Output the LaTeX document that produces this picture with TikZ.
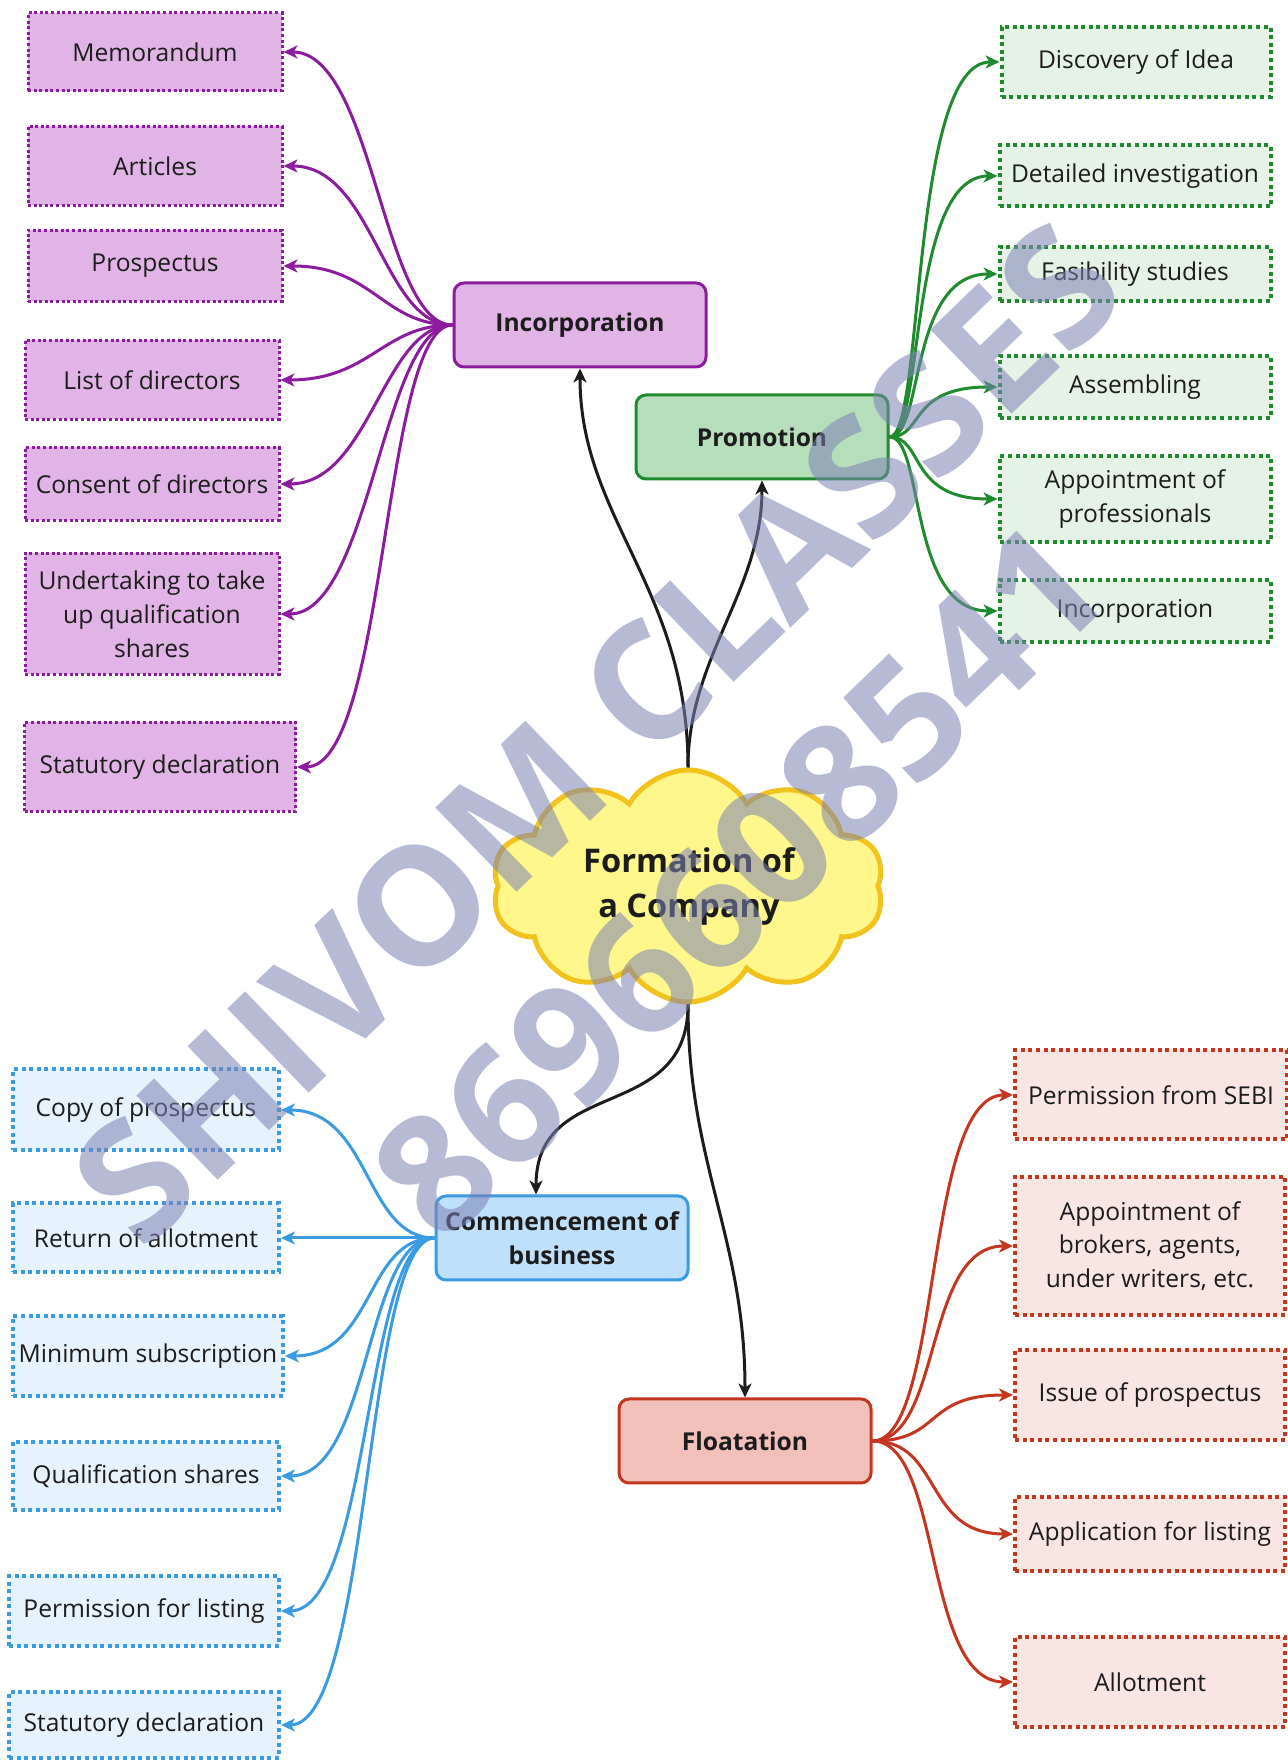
\documentclass[tikz,border=0pt]{standalone}
\usepackage{fontspec}
\setmainfont{Open Sans}
\usetikzlibrary{arrows.meta,shapes.symbols}
\definecolor{purpF}{HTML}{E0B5E5}
\definecolor{purpD}{HTML}{8B1C9E}
\definecolor{grnMainF}{HTML}{B6DEBB}
\definecolor{grnLeafF}{HTML}{E5F3E7}
\definecolor{grnD}{HTML}{1F8B2E}
\definecolor{bluMainF}{HTML}{BEE0FB}
\definecolor{bluLeafF}{HTML}{E6F3FD}
\definecolor{bluD}{HTML}{3A9BE1}
\definecolor{redMainF}{HTML}{F0C0B9}
\definecolor{redLeafF}{HTML}{F9E6E3}
\definecolor{redD}{HTML}{C4361E}
\definecolor{cloudF}{HTML}{FFF68C}
\definecolor{cloudD}{HTML}{F1C31C}
\definecolor{wmc}{RGB}{125,130,180}
\definecolor{ink}{HTML}{1C1C1C}
\tikzset{
  mainbox/.style={draw, rounded corners=5pt, line width=1.5pt, text=ink,
    font=\bfseries\fontsize{12.3}{16.9}\selectfont, align=center,
    minimum width=126pt, minimum height=42pt, inner sep=2pt},
  leaf/.style={line width=2pt, dash pattern=on 2pt off 1.8pt, text=ink,
    font=\fontsize{12.3}{16.9}\selectfont, align=center, inner sep=2pt},
  pleaf/.style={leaf, draw=purpD, fill=purpF, line width=1.5pt, dash pattern=on 1.5pt off 1.3pt},
  gleaf/.style={leaf, draw=grnD, fill=grnLeafF},
  bleaf/.style={leaf, draw=bluD, fill=bluLeafF},
  rleaf/.style={leaf, draw=redD, fill=redLeafF},
  conn/.style={line width=1.5pt, -{Stealth[length=7pt,width=6.5pt,inset=2pt]}},
  pconn/.style={conn, draw=purpD},
  gconn/.style={conn, draw=grnD},
  bconn/.style={conn, draw=bluD},
  rconn/.style={conn, draw=redD},
  kconn/.style={conn, draw=ink},
}
\begin{document}
\begin{tikzpicture}[x=0.5pt,y=0.5pt]
\useasboundingbox (0,0) rectangle (1287,1762);
\fill[white] (0,0) rectangle (1287,1762);

% ---------- Incorporation (purple) ----------
\node[mainbox, draw=purpD, fill=purpF] (inc) at (580,1437) {Incorporation};
\node[pleaf, minimum width=127pt, minimum height=39pt] (memo) at (155,1710) {Memorandum};
\node[pleaf, minimum width=127pt, minimum height=39.5pt] (art) at (155,1596) {Articles};
\node[pleaf, minimum width=127pt, minimum height=35.5pt] (pros) at (155,1496) {Prospectus};
\node[pleaf, minimum width=127pt, minimum height=39.5pt] (lod) at (152,1382) {List of directors};
\node[pleaf, minimum width=127pt, minimum height=36.5pt] (cod) at (152,1278) {Consent of directors};
\node[pleaf, minimum width=127pt, minimum height=60.5pt] (und) at (152,1148) {Undertaking to take\\up qualification\\shares};
\node[pleaf, minimum width=135.5pt, minimum height=44.5pt] (pstat) at (160,995) {Statutory declaration};

\foreach \t in {memo,art,pros,lod,cod,und,pstat}
  \draw[pconn] (inc.west) .. controls +(-70,0) and +(90,0) .. (\t.east);

% ---------- Promotion (green) ----------
\node[mainbox, draw=grnD, fill=grnMainF] (promo) at (762,1325) {Promotion};
\node[gleaf, minimum width=134.5pt, minimum height=35pt] (disc) at (1136,1700) {Discovery of Idea};
\node[gleaf, minimum width=135.5pt, minimum height=30.5pt] (det) at (1135,1586) {Detailed investigation};
\node[gleaf, minimum width=135.5pt, minimum height=27pt] (fas) at (1135,1488) {Fasibility studies};
\node[gleaf, minimum width=135.5pt, minimum height=31pt] (asm) at (1135,1375) {Assembling};
\node[gleaf, minimum width=135.5pt, minimum height=43pt] (gapp) at (1135,1263) {Appointment of\\professionals};
\node[gleaf, minimum width=135.5pt, minimum height=31pt] (ginc) at (1135,1151) {Incorporation};

\foreach \t in {disc,det,fas,asm,gapp,ginc}
  \draw[gconn] (promo.east) .. controls +(35,0) and +(-90,0) .. (\t.west);

% ---------- Cloud ----------
\node[cloud, cloud puffs=10, cloud puff arc=120, cloud ignores aspect,
      draw=cloudD, fill=cloudF, line width=2.5pt,
      minimum width=196pt, minimum height=116pt, inner sep=0pt] (cloud) at (688,876) {};
\node[text=ink, font=\bfseries\fontsize{16.3}{22.5}\selectfont, align=center] (ctitle) at (689,876) {Formation of\\a Company};

% ---------- Commencement (blue) ----------
\node[mainbox, draw=bluD, fill=bluMainF] (comm) at (562,524) {Commencement of\\business};
\node[bleaf, minimum width=133pt, minimum height=40.5pt] (copy) at (146,652) {Copy of prospectus};
\node[bleaf, minimum width=133pt, minimum height=34.5pt] (ret) at (146,524) {Return of allotment};
\node[bleaf, minimum width=135pt, minimum height=40pt] (mins) at (148,406) {Minimum subscription};
\node[bleaf, minimum width=133pt, minimum height=34pt] (qual) at (146,286) {Qualification shares};
\node[bleaf, minimum width=135pt, minimum height=35pt] (perm) at (144,151) {Permission for listing};
\node[bleaf, minimum width=135pt, minimum height=33pt] (bstat) at (144,37) {Statutory declaration};

\foreach \t in {copy,ret,mins,qual,perm,bstat}
  \draw[bconn] (comm.west) .. controls +(-70,0) and +(90,0) .. (\t.east);

% ---------- Floatation (red) ----------
\node[mainbox, draw=redD, fill=redMainF] (flo) at (745,321) {Floatation};
\node[rleaf, minimum width=136pt, minimum height=44.5pt] (sebi) at (1151,667) {Permission from SEBI};
\node[rleaf, minimum width=135pt, minimum height=69pt] (brok) at (1150,516) {Appointment of\\brokers, agents,\\under writers, etc.};
\node[rleaf, minimum width=135pt, minimum height=45pt] (iss) at (1150,367) {Issue of prospectus};
\node[rleaf, minimum width=135pt, minimum height=37pt] (appl) at (1150,228) {Application for listing};
\node[rleaf, minimum width=135pt, minimum height=45pt] (allot) at (1150,80) {Allotment};

\foreach \t in {sebi,brok,iss,appl,allot}
  \draw[rconn] (flo.east) .. controls +(70,0) and +(-90,0) .. (\t.west);

% ---------- black connectors from the cloud ----------
\draw[kconn] (cloud.north) .. controls +(0,180) and +(0,-150) .. (inc.south);
\draw[kconn] (cloud.north) .. controls +(0,110) and +(0,-110) .. (promo.south);
\draw[kconn] (cloud.south) .. controls +(0,-120) and +(0,120) .. ([xshift=-13pt]comm.north);
\draw[kconn] (cloud.south) .. controls +(0,-160) and +(0,160) .. (flo.north);

% ---------- watermark ----------
\node[rotate=44, text=wmc, text opacity=0.55, align=center,
      font=\bfseries\fontsize{82}{102}\selectfont] (wmark) at (668,955) {SHIVOM CLASSES\\8696608541};
\end{tikzpicture}
\end{document}
